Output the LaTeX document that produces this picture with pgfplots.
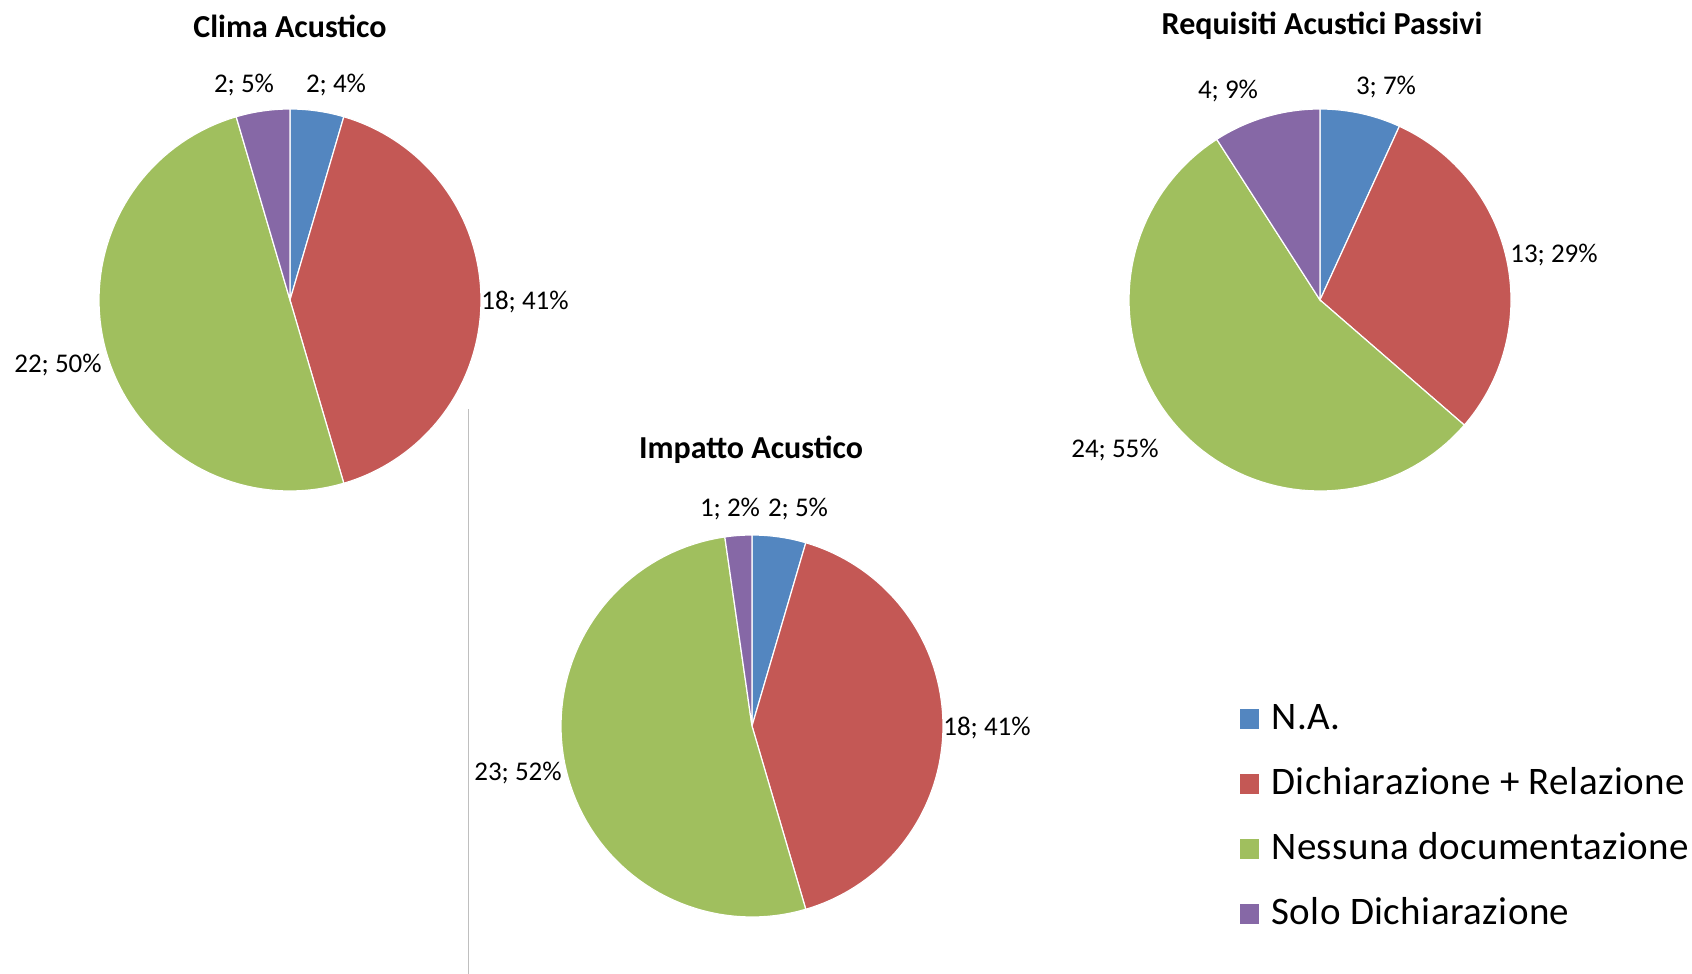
\documentclass[border=0pt]{standalone}
\usepackage{fontspec}
\setmainfont{Carlito}
\newfontfamily\legfont[LetterSpace=1.2]{Carlito}
\usepackage{pgfplots}
\pgfplotsset{compat=1.18}
\definecolor{cNA}{HTML}{5386C0}
\definecolor{cDR}{HTML}{C45855}
\definecolor{cND}{HTML}{A0BF5E}
\definecolor{cSD}{HTML}{8668A6}
% one sector: cx, cy, start angle, end angle, colour (pixel units, radius 191)
\newcommand\slice[5]{%
  \edef\temp{\noexpand\addplot[forget plot, fill=#5, draw=white, line width=0.6pt,
    domain=#3:#4, samples=80, variable=\noexpand\x]
    ({#1+191*cos(\noexpand\x)},{#2-191*sin(\noexpand\x)}) -- (axis cs:#1,#2) -- cycle;}%
  \temp}
% one pie: cx, cy, N.A., Dichiarazione+Relazione, Nessuna documentazione, Solo Dichiarazione
\newcommand\pie[6]{%
  \pgfmathsetmacro\tot{#3+#4+#5+#6}%
  \pgfmathsetmacro\aB{90-360*#3/\tot}%
  \pgfmathsetmacro\aC{\aB-360*#4/\tot}%
  \pgfmathsetmacro\aD{\aC-360*#5/\tot}%
  \slice{#1}{#2}{\aB}{90}{cNA}%
  \slice{#1}{#2}{\aC}{\aB}{cDR}%
  \slice{#1}{#2}{\aD}{\aC}{cND}%
  \slice{#1}{#2}{-270}{\aD}{cSD}%
}
\begin{document}
\begin{tikzpicture}
\useasboundingbox (0,0) rectangle (846pt,487pt);
\begin{axis}[at={(0pt,0pt)}, anchor=south west,
  width=846pt, height=487pt, scale only axis,
  xmin=0, xmax=1692, ymin=0, ymax=974, y dir=reverse,
  hide axis, clip=false,
  legend image code/.code={\fill[#1] (0pt,-5pt) rectangle (9.5pt,5pt);},
  legend cell align=left,
  legend style={draw=none, fill=none, at={(axis cs:1240,701)}, anchor=north west,
    font=\legfont\fontsize{19.5}{23}\selectfont, row sep=14.5pt, inner sep=0pt,
    nodes={inner sep=0pt, text height=14pt, text depth=4pt},
    /tikz/every odd column/.append style={column sep=6pt}},
]
% Clima Acustico
\pie{290}{300}{2}{18}{22}{2}
% Requisiti Acustici Passivi
\pie{1320}{300}{3}{13}{24}{4}
% Impatto Acustico
\pie{752}{726}{2}{18}{23}{1}

\addlegendimage{fill=cNA, draw=none}
\addlegendentry{N.A.}
\addlegendimage{fill=cDR, draw=none}
\addlegendentry{Dichiarazione + Relazione}
\addlegendimage{fill=cND, draw=none}
\addlegendentry{Nessuna documentazione}
\addlegendimage{fill=cSD, draw=none}
\addlegendentry{Solo Dichiarazione}

\draw[black!25, line width=0.5pt] (axis cs:468,409) -- (axis cs:468,974);

\begin{scope}[every node/.style={font=\bfseries\fontsize{16}{19}\selectfont}]
\node at (axis cs:290,26) {Clima Acustico};
\node at (axis cs:1322,26) {Requisiti Acustici Passivi};
\node at (axis cs:751,450) {Impatto Acustico};
\end{scope}

\begin{scope}[every node/.style={font=\fontsize{13.5}{16}\selectfont}]
\node at (axis cs:244,85) {2; 5\%};
\node at (axis cs:336,85) {2; 4\%};
\node at (axis cs:525,302) {18; 41\%};
\node at (axis cs:58,365) {22; 50\%};
\node at (axis cs:1228,91) {4; 9\%};
\node at (axis cs:1386,87) {3; 7\%};
\node at (axis cs:1554,255) {13; 29\%};
\node at (axis cs:1115,450) {24; 55\%};
\node at (axis cs:730,509) {1; 2\%};
\node at (axis cs:798,509) {2; 5\%};
\node at (axis cs:987,728) {18; 41\%};
\node at (axis cs:518,773) {23; 52\%};
\end{scope}
\end{axis}
\end{tikzpicture}
\end{document}
